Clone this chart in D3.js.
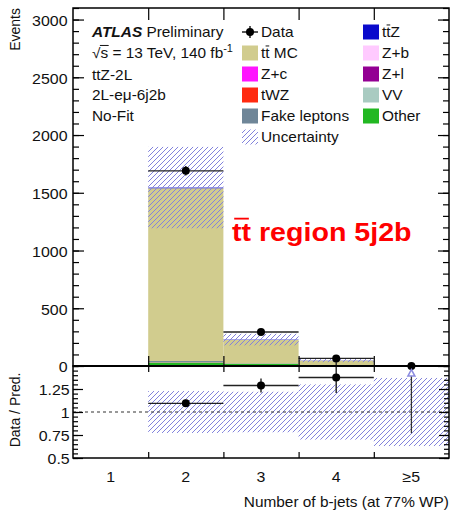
<!DOCTYPE html>
<html>
<head>
<meta charset="utf-8">
<script src="https://cdn.jsdelivr.net/npm/d3@7"></script>
<style>
  body { margin: 0; background: #fff; }
  svg { display: block; }
  text { font-family: "Liberation Sans", Arial, Helvetica, sans-serif; fill: #111; }
</style>
</head>
<body>
<svg id="chart" width="452" height="513"></svg>
<script>
// ---- data -------------------------------------------------------------
const bins = ["1", "2", "3", "4", "\u22655"];
const dataEvents = [null, 1690, 295, 66, 0];

// MC predictions per b-jet bin (stacked bottom to top)
const other  = [0.2, 30, 20, 6, 0.2];
const vv     = [0, 1, 0.3, 0.1, 0];
const zl     = [0, 0.5, 0.1, 0, 0];
const zb     = [0, 1, 0.4, 0.1, 0];
const zc     = [0, 0.5, 0.1, 0, 0];
const twz    = [0, 1, 0.8, 0.3, 0];
const fake   = [0, 9, 2, 0.5, 0];
const ttbar  = [0.3, 1496, 202.3, 39.5, 1.6];
const ttz    = [0, 6, 3, 1.5, 0.2];

// relative uncertainty of the total prediction
const uncRel = [null, 0.228, 0.22, 0.30, 0.37];
// lower end of the off-scale ratio marker
const ratioArrowLow = [null, null, null, null, 0.77];

const yTicksMain = [0, 500, 1000, 1500, 2000, 2500, 3000];
const yTicksRatio = [0.5, 0.75, 1, 1.25];

// ---- layout -----------------------------------------------------------
const SX = 1.1;            // horizontal text stretch
const FONT = 14;
const X0 = 73, X1 = 449, MT = 8, MB = 366, RB = 458;

const svg = d3.select("#chart");
const x  = d3.scaleBand().domain(bins).range([X0, X1]);
const xe = d3.scaleLinear().domain([0.5, 5.5]).range([X0, X1]);
const y  = d3.scaleLinear().domain([0, 3100]).range([MB, MT]);
const r  = d3.scaleLinear().domain([0.5, 1.5]).range([RB, MB]);

const defs = svg.append("defs");
const pat = defs.append("pattern").attr("id", "hatch")
  .attr("patternUnits", "userSpaceOnUse").attr("width", 5).attr("height", 5);
pat.append("path").attr("d", "M0,5 L5,0 M-1,1 L1,-1 M4,6 L6,4")
  .attr("stroke", "#8282dc").attr("stroke-width", 1);

function htext(parent, px, py, size, anchor) {
  const g = parent.append("g").attr("transform", `translate(${px},${py}) scale(${SX},1)`);
  return g.append("text").attr("font-size", size).attr("text-anchor", anchor || "start");
}
function overline(t, i0, i1, size, color, inset) {
  const n = t.node();
  const a = n.getStartPositionOfChar(i0).x, b = n.getEndPositionOfChar(i1).x;
  const ins = inset || 0;
  d3.select(n.parentNode).append("line")
    .attr("x1", a + ins).attr("x2", b - ins)
    .attr("y1", -size * 0.86).attr("y2", -size * 0.86)
    .attr("stroke", color || "#111").attr("stroke-width", Math.max(1, size * 0.07));
}

// ---- stacked predictions ----------------------------------------------
const keys = ["Other", "VV", "Z+l", "Z+b", "Z+c", "tWZ", "Fake leptons", "ttbar", "ttZ"];
const seriesByKey = { "Other": other, "VV": vv, "Z+l": zl, "Z+b": zb, "Z+c": zc,
  "tWZ": twz, "Fake leptons": fake, "ttbar": ttbar, "ttZ": ttz };
const colors = { "Other": "#22b822", "VV": "#a9cbc1", "Z+l": "#930093", "Z+b": "#ffcaff",
  "Z+c": "#ff14ff", "tWZ": "#ff2a10", "Fake leptons": "#6f8698", "ttbar": "#d1cc8e", "ttZ": "#0a0acc" };

const table = bins.map((b, i) => {
  const o = { bin: b };
  keys.forEach(k => o[k] = seriesByKey[k][i]);
  return o;
});
const stacked = d3.stack().keys(keys)(table);
const total = stacked[stacked.length - 1].map(d => d[1]);

const main = svg.append("g");
main.selectAll("g.layer").data(stacked).join("g").attr("class", "layer")
  .attr("fill", d => colors[d.key])
  .selectAll("rect").data(d => d).join("rect")
  .attr("x", d => x(d.data.bin)).attr("width", x.bandwidth())
  .attr("y", d => y(d[1])).attr("height", d => Math.max(0, y(d[0]) - y(d[1])));

// uncertainty band
const bandIdx = bins.map((b, i) => i).filter(i => uncRel[i] != null);
main.selectAll("rect.unc").data(bandIdx).join("rect").attr("class", "unc")
  .attr("x", i => x(bins[i])).attr("width", x.bandwidth())
  .attr("y", i => y(total[i] * (1 + uncRel[i])))
  .attr("height", i => y(total[i] * (1 - uncRel[i])) - y(total[i] * (1 + uncRel[i])))
  .attr("fill", "url(#hatch)");

// data points
const dataIdx = bins.map((b, i) => i).filter(i => dataEvents[i] != null);
const dg = main.append("g");
dg.selectAll("line.xbar").data(dataIdx).join("line")
  .attr("x1", i => x(bins[i])).attr("x2", i => x(bins[i]) + x.bandwidth())
  .attr("y1", i => y(dataEvents[i])).attr("y2", i => y(dataEvents[i]))
  .attr("stroke", "#222").attr("stroke-width", 1.4);
dg.selectAll("line.ybar").data(dataIdx).join("line")
  .attr("x1", i => x(bins[i]) + x.bandwidth() / 2).attr("x2", i => x(bins[i]) + x.bandwidth() / 2)
  .attr("y1", i => y(dataEvents[i] + Math.sqrt(dataEvents[i])))
  .attr("y2", i => y(Math.max(0, dataEvents[i] - Math.sqrt(dataEvents[i]))))
  .attr("stroke", "#222").attr("stroke-width", 1.4);
dg.selectAll("circle").data(dataIdx).join("circle")
  .attr("cx", i => x(bins[i]) + x.bandwidth() / 2).attr("cy", i => y(dataEvents[i]))
  .attr("r", 4).attr("fill", "#000");

// ---- ratio panel ------------------------------------------------------
const rp = svg.append("g");
rp.selectAll("rect.unc").data(bandIdx).join("rect").attr("class", "unc")
  .attr("x", i => x(bins[i])).attr("width", x.bandwidth())
  .attr("y", i => r(1 + uncRel[i])).attr("height", i => r(1 - uncRel[i]) - r(1 + uncRel[i]))
  .attr("fill", "url(#hatch)");
rp.append("line").attr("x1", X0).attr("x2", X1).attr("y1", r(1)).attr("y2", r(1))
  .attr("stroke", "#333").attr("stroke-width", 1.2).attr("stroke-dasharray", "3,3");

const ratioIdx = dataIdx.filter(i => dataEvents[i] > 0 && total[i] > 0);
const ratio = i => dataEvents[i] / total[i];
const rerr = i => Math.sqrt(dataEvents[i]) / total[i];
rp.selectAll("line.xbar").data(ratioIdx).join("line")
  .attr("x1", i => x(bins[i])).attr("x2", i => x(bins[i]) + x.bandwidth())
  .attr("y1", i => r(ratio(i))).attr("y2", i => r(ratio(i)))
  .attr("stroke", "#222").attr("stroke-width", 1.4);
rp.selectAll("line.ybar").data(ratioIdx).join("line")
  .attr("x1", i => x(bins[i]) + x.bandwidth() / 2).attr("x2", i => x(bins[i]) + x.bandwidth() / 2)
  .attr("y1", i => r(ratio(i) + rerr(i))).attr("y2", i => r(ratio(i) - rerr(i)))
  .attr("stroke", "#222").attr("stroke-width", 1.4);
rp.selectAll("circle").data(ratioIdx).join("circle")
  .attr("cx", i => x(bins[i]) + x.bandwidth() / 2).attr("cy", i => r(ratio(i)))
  .attr("r", 4).attr("fill", "#000");

// off-scale marker
const arrowIdx = bins.map((b, i) => i).filter(i => ratioArrowLow[i] != null);
arrowIdx.forEach(i => {
  const cx = x(bins[i]) + x.bandwidth() / 2;
  const tipY = r(1.46), baseY = r(1.39);
  rp.append("line").attr("x1", cx).attr("x2", cx).attr("y1", baseY).attr("y2", r(ratioArrowLow[i]))
    .attr("stroke", "#333").attr("stroke-width", 1.3);
  rp.append("path").attr("d", `M${cx},${tipY} L${cx - 3.5},${baseY} L${cx + 3.5},${baseY} Z`)
    .attr("fill", "#fff").attr("stroke", "#8c8ce0").attr("stroke-width", 1.5);
});

// ---- frames & axes ----------------------------------------------------
function styleAxis(g) {
  g.select(".domain").remove();
  g.selectAll(".tick line").attr("stroke", "#000").attr("stroke-width", 1.2);
  g.attr("font-family", null).attr("font-size", null);
  g.selectAll(".tick text").attr("font-size", FONT + 0.5).attr("fill", "#222")
    .attr("transform", `scale(${SX},1)`);
}
const minorMain = d3.range(0, 3101, 100);
const minorRatio = d3.range(0.5, 1.5001, 0.05).map(v => +v.toFixed(2));

// main panel
svg.append("g").attr("transform", `translate(${X0},0)`)
  .call(d3.axisLeft(y).tickValues(minorMain).tickSize(-6).tickFormat("")).call(styleAxis);
svg.append("g").attr("transform", `translate(${X0},0)`)
  .call(d3.axisLeft(y).tickValues(yTicksMain).tickSize(-11).tickPadding(5).tickFormat(d3.format("d")))
  .call(styleAxis).selectAll(".tick text").attr("dy", "0.4em");
svg.append("g").attr("transform", `translate(${X1},0)`)
  .call(d3.axisRight(y).tickValues(minorMain).tickSize(-6).tickFormat("")).call(styleAxis);
svg.append("g").attr("transform", `translate(${X1},0)`)
  .call(d3.axisRight(y).tickValues(yTicksMain).tickSize(-11).tickFormat("")).call(styleAxis);
svg.append("g").attr("transform", `translate(0,${MT})`)
  .call(d3.axisTop(xe).tickValues([1.5, 2.5, 3.5, 4.5]).tickSize(-12).tickFormat("")).call(styleAxis);
svg.append("g").attr("transform", `translate(0,${MB})`)
  .call(d3.axisBottom(xe).tickValues([1.5, 2.5, 3.5, 4.5]).tickSize(-10).tickFormat("")).call(styleAxis);

// ratio panel
svg.append("g").attr("transform", `translate(${X0},0)`)
  .call(d3.axisLeft(r).tickValues(minorRatio).tickSize(-5).tickFormat("")).call(styleAxis);
svg.append("g").attr("transform", `translate(${X0},0)`)
  .call(d3.axisLeft(r).tickValues(yTicksRatio).tickSize(-10).tickPadding(3).tickFormat(d => String(d)))
  .call(styleAxis).selectAll(".tick text").attr("dy", "0.36em");
svg.append("g").attr("transform", `translate(${X1},0)`)
  .call(d3.axisRight(r).tickValues(minorRatio).tickSize(-5).tickFormat("")).call(styleAxis);
svg.append("g").attr("transform", `translate(${X1},0)`)
  .call(d3.axisRight(r).tickValues(yTicksRatio).tickSize(-10).tickFormat("")).call(styleAxis);
svg.append("g").attr("transform", `translate(0,${MB})`)
  .call(d3.axisTop(xe).tickValues([1.5, 2.5, 3.5, 4.5]).tickSize(-6).tickFormat("")).call(styleAxis);
svg.append("g").attr("transform", `translate(0,${RB})`)
  .call(d3.axisBottom(xe).tickValues([1.5, 2.5, 3.5, 4.5]).tickSize(-6).tickFormat("")).call(styleAxis);
svg.append("g").attr("transform", `translate(0,${RB})`)
  .call(d3.axisBottom(x).tickSize(0).tickPadding(14)).call(styleAxis);

svg.append("rect").attr("x", X0).attr("y", MT).attr("width", X1 - X0).attr("height", MB - MT)
  .attr("fill", "none").attr("stroke", "#000").attr("stroke-width", 1.5);
svg.append("rect").attr("x", X0).attr("y", MB).attr("width", X1 - X0).attr("height", RB - MB)
  .attr("fill", "none").attr("stroke", "#000").attr("stroke-width", 1.5);
svg.append("line").attr("x1", X0).attr("x2", X1).attr("y1", MB).attr("y2", MB)
  .attr("stroke", "#000").attr("stroke-width", 2);

// axis titles
svg.append("text").attr("transform", "translate(20,8) rotate(-90)")
  .attr("text-anchor", "end").attr("font-size", FONT).attr("fill", "#222").text("Events");
svg.append("text").attr("transform", "translate(20,410) rotate(-90)")
  .attr("text-anchor", "middle").attr("font-size", FONT).attr("fill", "#222").text("Data / Pred.");
htext(svg, 449, 507, FONT, "end").attr("fill", "#222").text("Number of b-jets (at 77% WP)");

// ---- header text -------------------------------------------------------
const hdr = htext(svg, 92, 37, FONT);
hdr.append("tspan").attr("font-weight", "bold").attr("font-style", "italic").text("ATLAS");
hdr.append("tspan").text(" Preliminary");

const ecm = htext(svg, 92, 57.5, FONT);
ecm.append("tspan").text("\u221As = 13 TeV, 140 fb");
ecm.append("tspan").attr("font-size", 10).attr("dy", -6).text("-1");
overline(ecm, 1, 1, FONT, "#111", -0.5);

htext(svg, 92, 79.5, FONT).text("ttZ-2L");
htext(svg, 92, 100, FONT).text("2L-e\u03BC-6j2b");
htext(svg, 92, 121, FONT).text("No-Fit");

// ---- legend -------------------------------------------------------------
const legRows = [37, 58, 79, 100, 121, 142];
const legLeft = [
  { label: "Data", type: "data" },
  { label: "tt MC", key: "ttbar", bar: [1, 1] },
  { label: "Z+c", key: "Z+c" },
  { label: "tWZ", key: "tWZ" },
  { label: "Fake leptons", key: "Fake leptons" },
  { label: "Uncertainty", type: "unc" }
];
const legRight = [
  { label: "ttZ", key: "ttZ", bar: [1, 1] },
  { label: "Z+b", key: "Z+b" },
  { label: "Z+l", key: "Z+l" },
  { label: "VV", key: "VV" },
  { label: "Other", key: "Other" }
];
function drawLegend(items, bx, tx) {
  items.forEach((it, k) => {
    const base = legRows[k];
    const cy = base - 5;
    if (it.type === "data") {
      svg.append("line").attr("x1", bx).attr("x2", bx + 16).attr("y1", cy).attr("y2", cy)
        .attr("stroke", "#111").attr("stroke-width", 1.4);
      svg.append("line").attr("x1", bx + 8).attr("x2", bx + 8).attr("y1", cy - 6).attr("y2", cy + 6)
        .attr("stroke", "#111").attr("stroke-width", 1.4);
      svg.append("circle").attr("cx", bx + 8).attr("cy", cy).attr("r", 4).attr("fill", "#000");
    } else {
      svg.append("rect").attr("x", bx).attr("y", cy - 7.5).attr("width", 16).attr("height", 15)
        .attr("fill", it.type === "unc" ? "url(#hatch)" : colors[it.key]);
    }
    const t = htext(svg, tx, base, FONT).text(it.label);
    if (it.bar) overline(t, it.bar[0], it.bar[1], FONT, "#111", 0.3);
  });
}
drawLegend(legLeft, 242, 261);
drawLegend(legRight, 363, 382);

// ---- region label --------------------------------------------------------
const reg = htext(svg, 232, 241, 26).attr("font-weight", "bold").attr("fill", "#ff0000")
  .style("fill", "#ff0000").text("tt region 5j2b");
overline(reg, 0, 1, 26, "#ff0000", 2);
</script>
</body>
</html>
